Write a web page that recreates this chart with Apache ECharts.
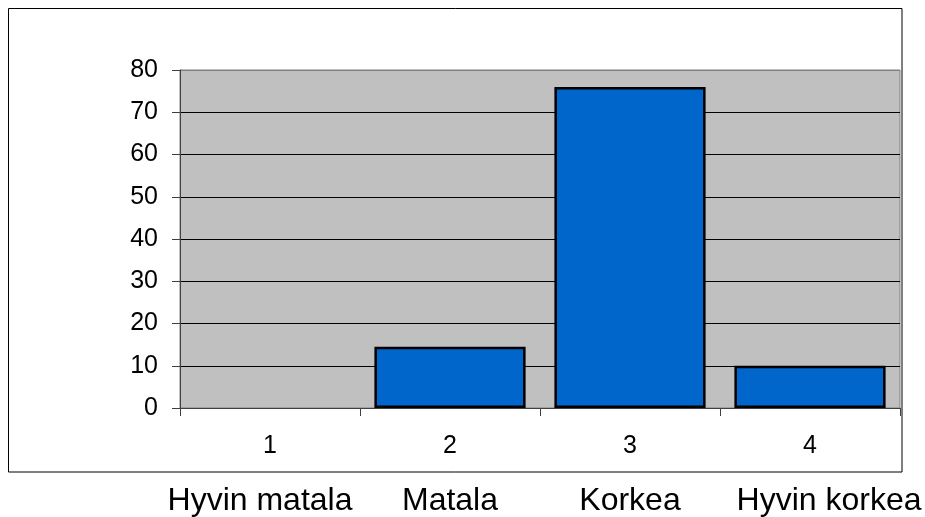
<!DOCTYPE html>
<html>
<head>
<meta charset="utf-8">
<style>
  html, body { margin: 0; padding: 0; background: #fff; }
  #chart { width: 925px; height: 517px; }
</style>
<script src="https://cdn.jsdelivr.net/npm/echarts@6/dist/echarts.min.js"></script>
</head>
<body>
<div id="chart"></div>
<script>
// Category numbers on the axis, and their verbal meaning printed underneath
const categories = ['1', '2', '3', '4'];
const levelNames = ['Hyvin matala', 'Matala', 'Korkea', 'Hyvin korkea'];
// Share of answers per category
const values = [0, 14.5, 76, 10];
// Value axis range
const yMin = 0, yMax = 80, yStep = 10;

const chart = echarts.init(document.getElementById('chart'), null, { renderer: 'canvas' });

// Gridlines are black, except the top edge of the plot which is grey
const gridColors = [];
for (let v = yMin; v <= yMax; v += yStep) gridColors.push(v === yMax ? '#808080' : '#000000');

// An empty category draws no outline at all
const barData = values.map(v => v === 0 ? { value: v, itemStyle: { borderWidth: 0 } } : v);

const font = 'Liberation Sans, Arial, sans-serif';

chart.setOption({
  animation: false,
  backgroundColor: '#ffffff',
  graphic: [{
    type: 'rect',
    shape: { x: 8.5, y: 8.5, width: 893.5, height: 463.5 },
    style: { fill: 'none', stroke: '#000000', lineWidth: 1 },
    z: 0
  }],
  grid: {
    left: 180, right: 25, top: 70, bottom: 106,
    show: true, backgroundColor: '#C0C0C0', borderColor: '#808080', borderWidth: 1
  },
  xAxis: [{
    type: 'category',
    data: categories,
    position: 'bottom',
    axisLine: { show: true, lineStyle: { color: '#404040', width: 1 } },
    axisTick: { show: true, length: 8, alignWithLabel: false, lineStyle: { color: '#404040' } },
    axisLabel: { fontFamily: font, fontSize: 25, color: '#000', margin: 26, interval: 0 },
    splitLine: { show: false }
  }, {
    type: 'category',
    data: levelNames,
    position: 'bottom',
    axisLine: { show: false },
    axisTick: { show: false },
    splitLine: { show: false },
    axisLabel: {
      interval: 0,
      hideOverlap: false,
      fontFamily: font, fontSize: 32, color: '#000', margin: 77,
      formatter: (v, i) => i === 0 ? '{a|' + v + '}' : i === 3 ? '{d|' + v + '}' : v,
      rich: {
        a: { fontFamily: font, fontSize: 32, color: '#000', padding: [0, 20, 0, 0] },
        d: { fontFamily: font, fontSize: 32, color: '#000', padding: [0, 0, 0, 38] }
      }
    }
  }],
  yAxis: {
    type: 'value',
    min: yMin, max: yMax, interval: yStep,
    axisLine: { show: true, lineStyle: { color: '#404040', width: 1 } },
    axisTick: { show: true, length: 8, lineStyle: { color: '#404040' } },
    axisLabel: { fontFamily: font, fontSize: 25, color: '#000', margin: 22 },
    splitLine: { show: true, lineStyle: { color: gridColors, width: 1 } }
  },
  series: [{
    type: 'bar',
    xAxisIndex: 0,
    data: barData,
    barCategoryGap: '16%',
    itemStyle: { color: '#0066CC', borderColor: '#000000', borderWidth: 2.5 }
  }]
});
</script>
</body>
</html>
